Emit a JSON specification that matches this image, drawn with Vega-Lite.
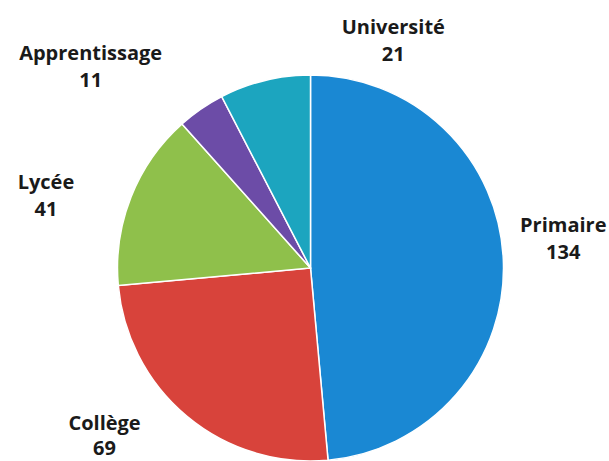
{
  "$schema": "https://vega.github.io/schema/vega-lite/v6.json",
  "width": 595,
  "height": 386,
  "autosize": {"type": "none"},
  "padding": {"left": 13, "top": 75, "right": 0, "bottom": 0},
  "background": "white",
  "config": {"view": {"stroke": null}},
  "data": {
    "values": [
      {"niveau": "Primaire", "effectif": 134, "ordre": 1},
      {"niveau": "Collège", "effectif": 69, "ordre": 2},
      {"niveau": "Lycée", "effectif": 41, "ordre": 3},
      {"niveau": "Apprentissage", "effectif": 11, "ordre": 4},
      {"niveau": "Université", "effectif": 21, "ordre": 5}
    ]
  },
  "encoding": {
    "theta": {"field": "effectif", "type": "quantitative", "stack": true},
    "order": {"field": "ordre", "type": "quantitative"}
  },
  "layer": [
    {
      "mark": {"type": "arc", "outerRadius": 193, "stroke": "white", "strokeWidth": 1.5},
      "encoding": {
        "color": {
          "field": "niveau",
          "type": "nominal",
          "scale": {
            "domain": ["Primaire", "Collège", "Lycée", "Apprentissage", "Université"],
            "range": ["#1a88d3", "#d8433b", "#8fc04b", "#6c4ca7", "#1ca5bf"]
          },
          "legend": null
        }
      }
    },
    {
      "mark": {"type": "text", "radius": 250, "dx": 3, "dy": -31, "font": "Open Sans", "fontWeight": "bold", "fontSize": 20, "lineHeight": 27, "fill": "#1a1a1a", "align": "center", "baseline": "middle",
        "text": {"expr": "datum.niveau == 'Primaire' ? [datum.niveau, '' + datum.effectif] : ''"}}
    },
    {
      "mark": {"type": "text", "radius": 250, "dx": -46, "dy": -36, "font": "Open Sans", "fontWeight": "bold", "fontSize": 20, "lineHeight": 25, "fill": "#1a1a1a", "align": "center", "baseline": "middle",
        "text": {"expr": "datum.niveau == 'Collège' ? [datum.niveau, '' + datum.effectif] : ''"}}
    },
    {
      "mark": {"type": "text", "radius": 250, "dx": -32, "dy": 7, "font": "Open Sans", "fontWeight": "bold", "fontSize": 20, "lineHeight": 27, "fill": "#1a1a1a", "align": "center", "baseline": "middle",
        "text": {"expr": "datum.niveau == 'Lycée' ? [datum.niveau, '' + datum.effectif] : ''"}}
    },
    {
      "mark": {"type": "text", "radius": 250, "dx": -78, "dy": -8, "font": "Open Sans", "fontWeight": "bold", "fontSize": 20, "lineHeight": 27, "fill": "#1a1a1a", "align": "center", "baseline": "middle",
        "text": {"expr": "datum.niveau == 'Apprentissage' ? [datum.niveau, '' + datum.effectif] : ''"}}
    },
    {
      "mark": {"type": "text", "radius": 250, "dx": 142, "dy": 3, "font": "Open Sans", "fontWeight": "bold", "fontSize": 20, "lineHeight": 27, "fill": "#1a1a1a", "align": "center", "baseline": "middle",
        "text": {"expr": "datum.niveau == 'Université' ? [datum.niveau, '' + datum.effectif] : ''"}}
    }
  ]
}
